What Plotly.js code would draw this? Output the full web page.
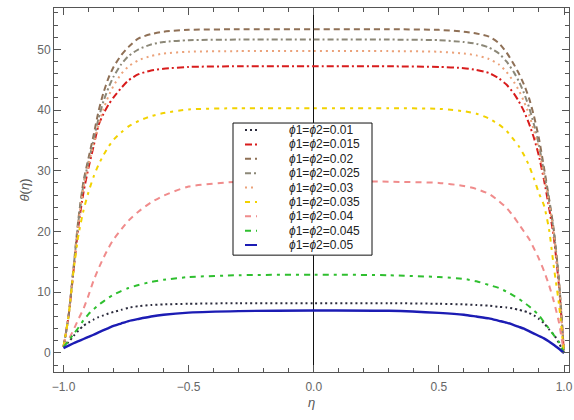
<!DOCTYPE html>
<html>
<head>
<meta charset="utf-8">
<script src="https://cdn.plot.ly/plotly-3.0.1.min.js"></script>
<style>html,body{margin:0;padding:0;background:#fff;}#chart{width:574px;height:420px;}</style>
</head>
<body>
<div id="chart"></div>
<script>
// eta grid
const eta = [-1, -0.98, -0.96, -0.94, -0.92, -0.9, -0.88, -0.86, -0.84, -0.82, -0.8, -0.77, -0.74, -0.7, -0.65, -0.6, -0.5, -0.3, 0, 0.3, 0.5, 0.6, 0.65, 0.7, 0.74, 0.77, 0.8, 0.82, 0.84, 0.86, 0.88, 0.9, 0.92, 0.94, 0.96, 0.98, 1];

const labels = ["ϕ1=ϕ2=0.01", "ϕ1=ϕ2=0.015", "ϕ1=ϕ2=0.02", "ϕ1=ϕ2=0.025", "ϕ1=ϕ2=0.03", "ϕ1=ϕ2=0.035", "ϕ1=ϕ2=0.04", "ϕ1=ϕ2=0.045", "ϕ1=ϕ2=0.05"];

const theta_010 = [1, 1.8, 2.8, 3.7, 4.5, 5.0, 5.5, 5.9, 6.2, 6.5, 6.75, 7.1, 7.45, 7.7, 7.9, 8.0, 8.1, 8.2, 8.2, 8.2, 8.1, 8.0, 7.9, 7.8, 7.6, 7.5, 7.3, 7.1, 6.9, 6.6, 6.2, 5.6, 4.9, 3.9, 3.0, 1.6, 0];
const theta_015 = [1, 6, 13.5, 21, 26.5, 30.5, 34, 37.5, 39.4, 40.9, 42.1, 43.6, 44.9, 45.9, 46.5, 46.8, 47.1, 47.2, 47.2, 47.2, 47.1, 46.9, 46.6, 46.1, 45.2, 44.2, 42.7, 41.4, 39.8, 37.8, 35.4, 32.4, 28.5, 24, 18.8, 11, 0];
const theta_020 = [1, 6, 14, 22.2, 28.3, 32.1, 35.8, 39.8, 42.9, 45.3, 47.1, 49, 50.4, 51.8, 52.5, 52.9, 53.2, 53.3, 53.3, 53.3, 53.2, 52.9, 52.6, 52.1, 51, 49.5, 47.5, 46, 44.2, 42, 39, 35.3, 30.5, 25.5, 20, 12, 0];
const theta_025 = [1, 6, 14, 21.8, 27.8, 31.5, 35, 38.6, 41.5, 43.7, 45.5, 47.5, 48.9, 50, 50.8, 51.2, 51.5, 51.6, 51.6, 51.6, 51.5, 51.2, 50.9, 50.3, 49.3, 48, 46.2, 44.7, 42.8, 40.5, 37.6, 34.2, 29.8, 25.2, 19.8, 11.8, 0];
const theta_030 = [1, 6, 13.8, 21.5, 27.3, 31, 34.3, 37.5, 40.2, 42.3, 44, 45.9, 47.2, 48.2, 48.9, 49.3, 49.6, 49.7, 49.7, 49.7, 49.6, 49.3, 49, 48.4, 47.5, 46.3, 44.6, 43.2, 41.4, 39.3, 36.6, 33.4, 29.2, 24.8, 19.4, 11.5, 0];
const theta_035 = [1, 6, 13.5, 19.5, 23.5, 26.5, 29, 31, 32.6, 34, 35.1, 36.3, 37.3, 38.2, 39, 39.5, 40.1, 40.3, 40.3, 40.3, 40.2, 39.8, 39.4, 38.6, 37.6, 36.6, 35.1, 34, 32.6, 30.9, 28.7, 26.3, 24.3, 20.4, 14, 8, 0];
const theta_040 = [1, 2.2, 3.8, 5.6, 7.3, 9.5, 11.9, 13.9, 15.7, 17.3, 18.7, 20.3, 21.8, 23.3, 24.8, 25.9, 27.4, 28.2, 28.3, 28.2, 28, 27.5, 27, 26.2, 25, 23.9, 22.4, 21.2, 20, 18.8, 17.2, 15.5, 13.5, 11.2, 8.4, 5, 0];
const theta_045 = [1, 2, 3.1, 4.2, 5.4, 6.4, 7.2, 7.9, 8.5, 9.1, 9.6, 10.2, 10.7, 11.2, 11.7, 12.05, 12.5, 12.8, 12.9, 12.8, 12.5, 12.2, 11.8, 11.2, 10.7, 10.1, 9.4, 8.9, 8.3, 7.7, 7.0, 6.2, 5.1, 4.0, 2.9, 1.8, 0];
const theta_050 = [0.8, 1.2, 1.6, 1.95, 2.3, 2.65, 3.0, 3.4, 3.75, 4.1, 4.45, 4.85, 5.25, 5.6, 6.0, 6.3, 6.65, 6.9, 7.0, 6.95, 6.6, 6.3, 6.0, 5.7, 5.3, 5.0, 4.6, 4.3, 4.0, 3.6, 3.2, 2.8, 2.4, 1.9, 1.3, 0.7, 0];

const series = [theta_010, theta_015, theta_020, theta_025, theta_030, theta_035, theta_040, theta_045, theta_050];

// styles
const colors = ["#2b2b3c", "#d81c1c", "#8f7056", "#8c8878", "#eba27a", "#f2d200", "#f08c8c", "#2fbf2f", "#1c1cb4"];
const dashes = ["2px,3px", "7px,3px,2px,3px", "6px,4px", "6px,3px,2px,3px", "2px,4px", "5px,5px,3px,5px", "6px,5px", "6px,5px,3px,5px", "solid"];
const widths = [2, 2, 2, 2, 2, 2, 2, 2, 2.4];

const traces = series.map((s, i) => ({
  x: eta, y: s, type: 'scatter', mode: 'lines', name: labels[i],
  line: {color: colors[i], width: widths[i], dash: dashes[i], shape: 'spline', smoothing: 0.6},
  showlegend: false, hoverinfo: 'skip'
}));

// plot-area size in px (for the compact legend layout)
const plotW = 574 - 54 - 5, plotH = 420 - 8 - 48;

// custom legend (compact, as in the reference)
const lgLeft = (233 - 54) / plotW, lgRight = (372 - 54) / plotW, lgTop = 0.684, lgBottom = 0.321;
const shapes = [{type: 'rect', xref: 'paper', yref: 'paper', x0: lgLeft, x1: lgRight, y0: lgBottom, y1: lgTop,
  line: {color: '#111', width: 1}, fillcolor: '#fff', layer: 'above'}];
const annotations = [];
const rowStep = 14.375 / plotH;
const firstRow = lgTop - 7 / plotH;
labels.forEach((lab, i) => {
  const yy = firstRow - i * rowStep;
  shapes.push({type: 'line', xref: 'paper', yref: 'paper', x0: lgLeft + 12 / plotW, x1: lgLeft + 24 / plotW, y0: yy, y1: yy,
    line: {color: colors[i], width: 2, dash: dashes[i]}, layer: 'above'});
  annotations.push({xref: 'paper', yref: 'paper', x: lgLeft + 54 / plotW, y: yy, xanchor: 'left', yanchor: 'middle',
    text: lab.replace(/ϕ/g, '<i>ϕ</i>'), showarrow: false, font: {family: 'Liberation Sans, Arial, sans-serif', size: 12, color: '#222'}});
});

const layout = {
  width: 574, height: 420,
  margin: {l: 54, r: 5, t: 8, b: 48},
  paper_bgcolor: '#fff', plot_bgcolor: '#fff',
  font: {family: 'Liberation Sans, Arial, sans-serif', size: 12, color: '#666'},
  xaxis: {
    range: [-1.038, 1.02], tickvals: [-1, -0.5, 0, 0.5, 1], tickformat: '.1f',
    ticks: 'inside', ticklen: 7, tickcolor: '#555', showline: true, linecolor: '#555', linewidth: 1, mirror: 'ticks',
    minor: {ticks: 'inside', dtick: 0.1, tick0: 0, ticklen: 4, tickcolor: '#555', showgrid: false},
    showgrid: false, zeroline: true, zerolinecolor: '#111', zerolinewidth: 1,
    tickfont: {size: 12, color: '#666'}, ticklabeloverflow: 'allow', ticklabelstandoff: 4,
    title: {text: '<i>η</i>', font: {size: 13, color: '#555'}, standoff: 4}
  },
  yaxis: {
    range: [-3.13, 56.8], tickvals: [0, 10, 20, 30, 40, 50],
    ticks: 'inside', ticklen: 7, tickcolor: '#555', showline: true, linecolor: '#555', linewidth: 1, mirror: 'ticks',
    minor: {ticks: 'inside', dtick: 2, tick0: 0, ticklen: 4, tickcolor: '#555', showgrid: false},
    showgrid: false, zeroline: false,
    tickfont: {size: 12, color: '#666'},
    title: {text: '<i>θ</i>(<i>η</i>)', font: {size: 13, color: '#555'}, standoff: 4}
  },
  shapes: shapes,
  annotations: annotations,
  showlegend: false
};

Plotly.newPlot('chart', traces, layout, {displayModeBar: false, staticPlot: true});
</script>
</body>
</html>
